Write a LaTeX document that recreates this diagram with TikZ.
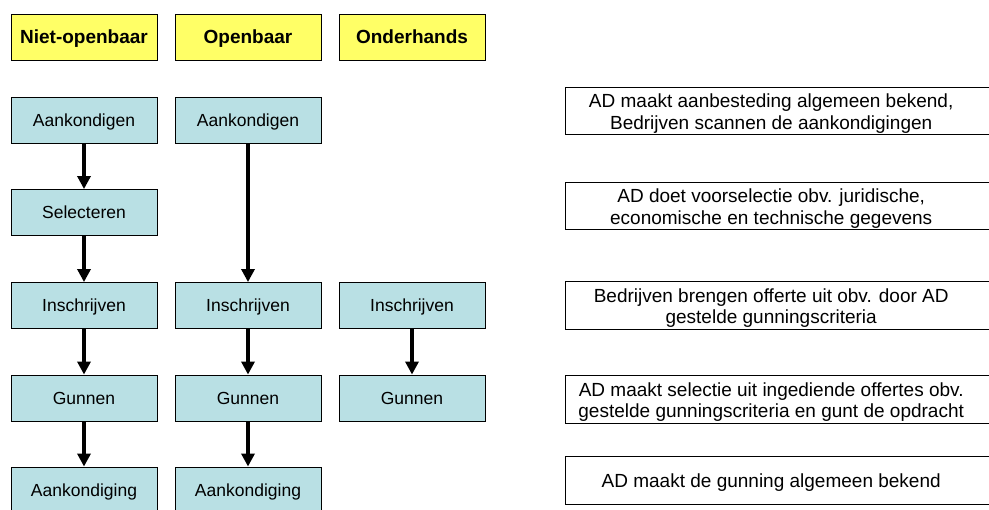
\documentclass[tikz,border=0pt]{standalone}
\usepackage{fontspec}
\setmainfont{Liberation Sans}
\usetikzlibrary{arrows.meta}
\definecolor{headyellow}{RGB}{255,255,102}
\definecolor{stepblue}{RGB}{185,224,228}
\tikzset{
    header/.style={draw, fill=headyellow, line width=0.9pt, minimum width=146pt, minimum height=46pt, inner sep=0pt, text height=15pt, text depth=2pt, font=\fontsize{19}{22}\selectfont\bfseries},
    phase/.style={draw, fill=stepblue, line width=0.9pt, minimum width=146pt, minimum height=46pt, inner sep=0pt, text height=14pt, text depth=1.5pt, font=\fontsize{17.5}{21}\selectfont},
    explain/.style={minimum width=412pt, minimum height=47pt, inner sep=0pt, align=center, font=\fontsize{19}{21.5}\selectfont},
    frame/.style={line width=0.9pt},
    flow/.style={line width=4pt, -{Triangle[width=13pt,length=13pt]}}
}
\begin{document}
\begin{tikzpicture}[x=1pt, y=-1pt]
    \useasboundingbox (0,0) rectangle (989,510);

    % procedure types
    \node[header] (hniet) at (84,37) {Niet-openbaar};
    \node[header] (hopen) at (248,37) {Openbaar};
    \node[header] (honder) at (412,37) {Onderhands};

    % niet-openbaar
    \node[phase] (na) at (84,120) {Aankondigen};
    \node[phase] (ns) at (84,212.5) {Selecteren};
    \node[phase] (ni) at (84,305.5) {Inschrijven};
    \node[phase] (ng) at (84,398) {Gunnen};
    \node[phase] (nk) at (84,490) {Aankondiging};
    % openbaar
    \node[phase] (oa) at (248,120) {Aankondigen};
    \node[phase] (oi) at (248,305.5) {Inschrijven};
    \node[phase] (og) at (248,398) {Gunnen};
    \node[phase] (ok) at (248,490) {Aankondiging};
    % onderhands
    \node[phase] (ui) at (412,305.5) {Inschrijven};
    \node[phase] (ug) at (412,398) {Gunnen};

    % arrows
    \draw[flow] (na) -- (ns);
    \draw[flow] (ns) -- (ni);
    \draw[flow] (ni) -- (ng);
    \draw[flow] (ng) -- (nk);
    \draw[flow] (oa) -- (oi);
    \draw[flow] (oi) -- (og);
    \draw[flow] (og) -- (ok);
    \draw[flow] (ui) -- (ug);

    % explanation of each phase, boxes run off the right edge
    \node[explain, anchor=west] (ea) at (565,113.5) {AD maakt aanbesteding algemeen bekend,\\Bedrijven scannen de aankondigingen};
    \node[explain, anchor=west] (es) at (565,208.5) {AD doet voorselectie obv. juridische,\\economische en technische gegevens};
    \node[explain, anchor=west] (ei) at (565,308) {Bedrijven brengen offerte uit obv. door AD\\gestelde gunningscriteria};
    \node[explain, anchor=west] (eg) at (565,402) {AD maakt selectie uit ingediende offertes obv.\\gestelde gunningscriteria en gunt de opdracht};
    \node[explain, anchor=west] (ek) at (565,483) {AD maakt de gunning algemeen bekend};
    \foreach \e in {ea,es,ei,eg,ek}
        \draw[frame] ([yshift=2.5pt]\e.north west) rectangle ([xshift=30pt,yshift=2.5pt]\e.south east);
\end{tikzpicture}
\end{document}
